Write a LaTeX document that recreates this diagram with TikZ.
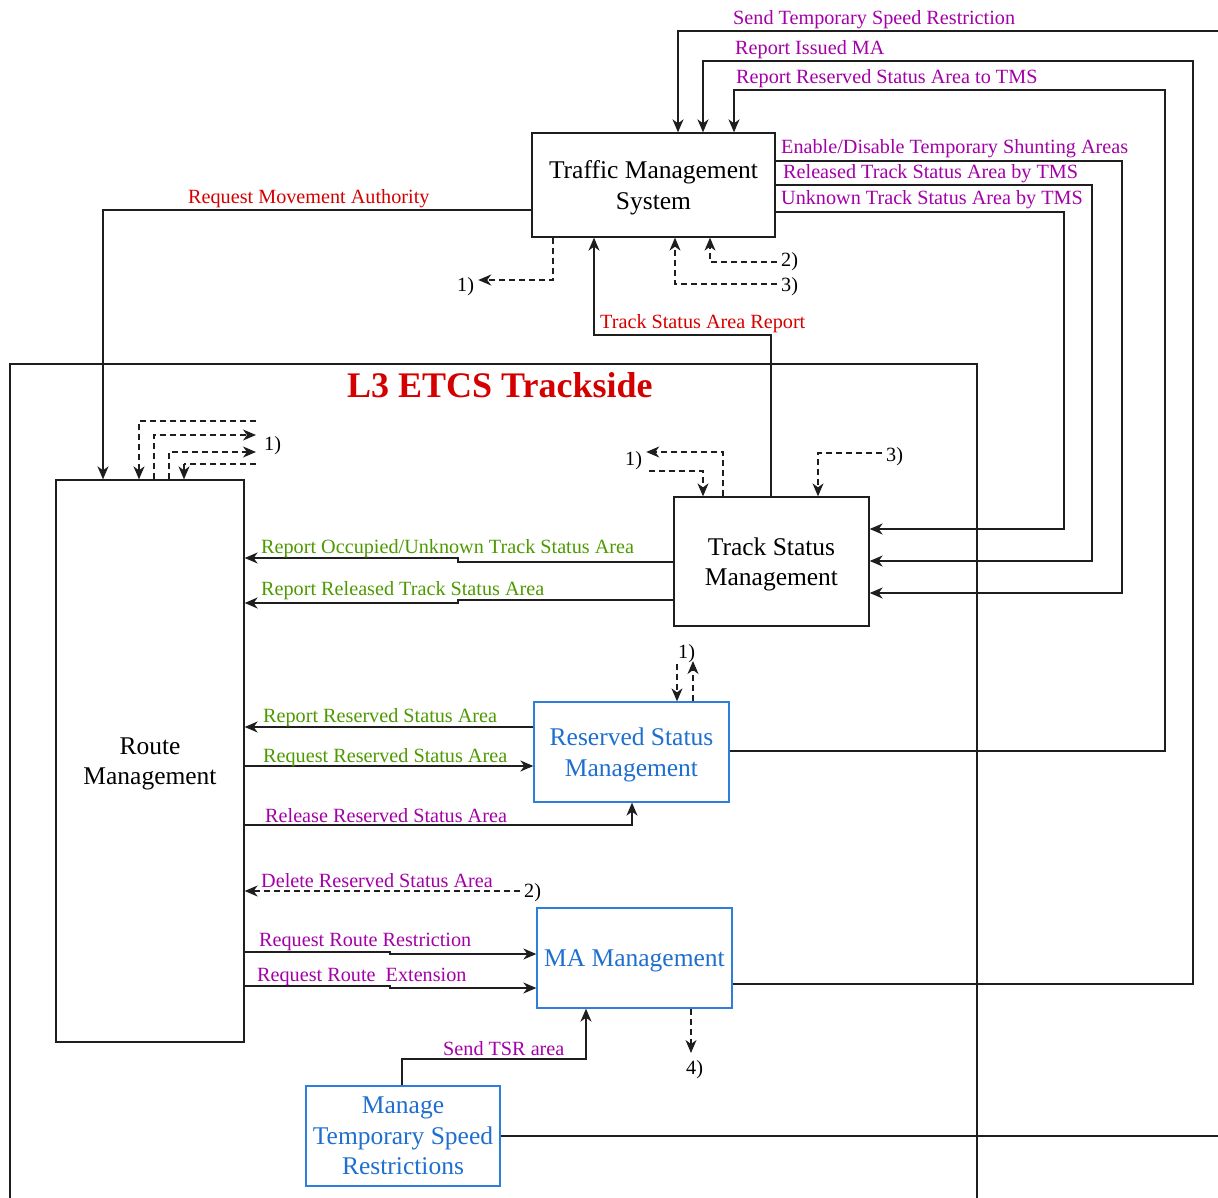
\documentclass[tikz,border=0pt]{standalone}
\usepackage{fontspec}
\setmainfont{Liberation Serif}
\usetikzlibrary{arrows.meta,calc}
\definecolor{cred}{HTML}{D40000}
\definecolor{cpurple}{HTML}{A300A8}
\definecolor{cgreen}{HTML}{4D9A00}
\definecolor{cblue}{HTML}{1F6FD0}
\definecolor{cbord}{HTML}{2D7FDB}
\definecolor{cline}{HTML}{1E1E1E}
\begin{document}
\begin{tikzpicture}[x=1pt,y=-1pt,
  box/.style={draw=cline, line width=1.3pt, fill=white, align=center, inner sep=0pt, text depth=0pt, font=\fontsize{25.5}{30.5}\selectfont},
  bbox/.style={box, draw=cbord, text=cblue},
  conn/.style={draw=cline, line width=1.4pt},
  arr/.style={conn, -{Stealth[length=13pt,width=11pt,inset=4pt]}},
  dline/.style={conn, line width=1.2pt, dash pattern=on 6pt off 4pt},
  darr/.style={dline, -{Stealth[length=13pt,width=11pt,inset=4pt]}},
  lbl/.style={inner sep=0pt, anchor=base west, font=\fontsize{20.2}{23}\selectfont},
  num/.style={lbl, text=black, inner xsep=4pt},
  pl/.style={lbl, text=cpurple},
  rl/.style={lbl, text=cred},
  gl/.style={lbl, text=cgreen}]
\useasboundingbox (0,0) rectangle (1218,1198);

% trackside frame
\draw[conn, line width=1.3pt] (10,1198) -- (10,364) -- (977,364) -- (977,1198);
\node[inner sep=0pt, anchor=base west, text=cred, font=\fontsize{36}{40}\selectfont\bfseries] (title) at (347,397) {L3 ETCS Trackside};

% boxes
\node[box, minimum width=243pt, minimum height=104pt] (tms) at (653.5,185) {Traffic Management\\System};
\node[box, minimum width=195pt, minimum height=129pt] (tsm) at (771.5,561.5) {Track Status\\Management};
\node[box, minimum width=188pt, minimum height=562pt] (route) at (150,761) {Route\\Management};
\node[bbox, minimum width=195pt, minimum height=100pt] (rsm) at (631.5,752) {Reserved Status\\Management};
\node[bbox, minimum width=195pt, minimum height=100pt] (ma) at (634.5,958) {MA Management};
\node[bbox, minimum width=194pt, minimum height=100pt] (tsr) at (403,1136) {Manage\\Temporary Speed\\Restrictions};

% free ends
\coordinate (offA) at (1218,31);
\coordinate (offB) at (1218,1136);

% connectors to TMS from the right/top
\draw[arr] (offA) -- (678,31) -- (678,0 |- tms.north);
\draw[conn] (tsr.east) -- (offB);
\draw[arr] (ma.east |- 0,984) -- (1193,984) -- (1193,61) -- (703,61) -- (703,0 |- tms.north);
\draw[arr] (rsm.east |- 0,751) -- (1165,751) -- (1165,90) -- (734,90) -- (734,0 |- tms.north);

% TMS to TSM
\draw[arr] (tms.east |- 0,161) -- (1122,161) -- (1122,593) -- (tsm.east |- 0,593);
\draw[arr] (tms.east |- 0,185) -- (1092,185) -- (1092,561) -- (tsm.east |- 0,561);
\draw[arr] (tms.east |- 0,212) -- (1064,212) -- (1064,529) -- (tsm.east |- 0,529);

% Request MA
\draw[arr] (tms.west |- 0,210) -- (103,210) -- (103,0 |- route.north);

% Track status area report
\draw[arr] (771,0 |- tsm.north) -- (771,335) -- (594,335) -- (594,0 |- tms.south);

% TMS dashed
\node[num] (t1) at (453,291) {1)};
\node[num] (t2) at (777,267) {2)};
\node[num] (t3) at (777,291) {3)};
\draw[darr] (553,0 |- tms.south) -- (553,280) -- (t1.east |- 0,280);
\draw[darr] (t2.west |- 0,262) -- (710,262) -- (710,0 |- tms.south);
\draw[darr] (t3.west |- 0,284) -- (675,284) -- (675,0 |- tms.south);

% Route dashed loops
\node[num] (r1) at (260,450) {1)};
\coordinate (ra) at (256,421);
\coordinate (rb) at (256,435);
\coordinate (rc) at (256,452);
\coordinate (rd) at (256,464);
\draw[darr] (ra) -- (139,421) -- (139,0 |- route.north);
\draw[darr] (154,0 |- route.north) -- (154,435) -- (rb);
\draw[darr] (169,0 |- route.north) -- (169,452) -- (rc);
\draw[dline] (rd) -- (184,464);
\draw[darr] (184,464) -- (184,0 |- route.north);

% TSM dashed
\node[num] (s1) at (621,465) {1)};
\node[num] (s3) at (882,461) {3)};
\draw[darr] (723,0 |- tsm.north) -- (723,452) -- (s1.east |- 0,452);
\draw[darr] (649,471) -- (703,471) -- (703,0 |- tsm.north);
\draw[darr] (s3.west |- 0,453) -- (818,453) -- (818,0 |- tsm.north);

% RSM dashed
\node[num] (q1) at (674,658) {1)};
\draw[darr] (677,664) -- (677,0 |- rsm.north);
\draw[darr] (693,0 |- rsm.north) -- (693,661);

% TSM to Route
\draw[arr] (tsm.west |- 0,562) -- (458,562) -- (458,558) -- (route.east |- 0,558);
\draw[arr] (tsm.west |- 0,600) -- (458,600) -- (458,603) -- (route.east |- 0,603);

% RSM to/from Route
\draw[arr] (rsm.west |- 0,727) -- (route.east |- 0,727);
\draw[arr] (route.east |- 0,766) -- (rsm.west |- 0,766);
\draw[arr] (route.east |- 0,825) -- (632,825) -- (632,0 |- rsm.south);

% Delete RSA
\node[num] (m2) at (520,897) {2)};
\draw[darr] (m2.west |- 0,891) -- (route.east |- 0,891);

% Route to MA
\draw[arr] (route.east |- 0,952) -- (390,952) -- (390,954) -- (ma.west |- 0,954);
\draw[arr] (route.east |- 0,986) -- (390,986) -- (390,988) -- (ma.west |- 0,988);

% MA dashed down
\node[num] (m4) at (682,1074) {4)};
\draw[darr] (691,0 |- ma.south) -- (691,1053);

% Send TSR area
\draw[arr] (402,0 |- tsr.north) -- (402,1059) -- (586,1059) -- (586,0 |- ma.south);

% labels
\node[pl] (l1) at (733,25) {Send Temporary Speed Restriction};
\node[pl] (l2) at (735,55) {Report Issued MA};
\node[pl] (l3) at (736,84) {Report Reserved Status Area to TMS};
\node[pl] (l4) at (781,154) {Enable/Disable Temporary Shunting Areas};
\node[pl] (l5) at (783,179) {Released Track Status Area by TMS};
\node[pl] (l6) at (781,205) {Unknown Track Status Area by TMS};
\node[rl] (l7) at (188,204) {Request Movement Authority};
\node[rl] (l8) at (600,328) {Track Status Area Report};
\node[gl] (l9) at (261,553) {Report Occupied/Unknown Track Status Area};
\node[gl] (l10) at (261,595) {Report Released Track Status Area};
\node[gl] (l11) at (263,722) {Report Reserved Status Area};
\node[gl] (l12) at (263,762) {Request Reserved Status Area};
\node[pl] (l13) at (265,822) {Release Reserved Status Area};
\node[pl] (l14) at (261,887) {Delete Reserved Status Area};
\node[pl] (l15) at (259,946) {Request Route Restriction};
\node[pl] (l16) at (257,981) {Request Route~ Extension};
\node[pl] (l17) at (443,1055) {Send TSR area};
\end{tikzpicture}
\end{document}
